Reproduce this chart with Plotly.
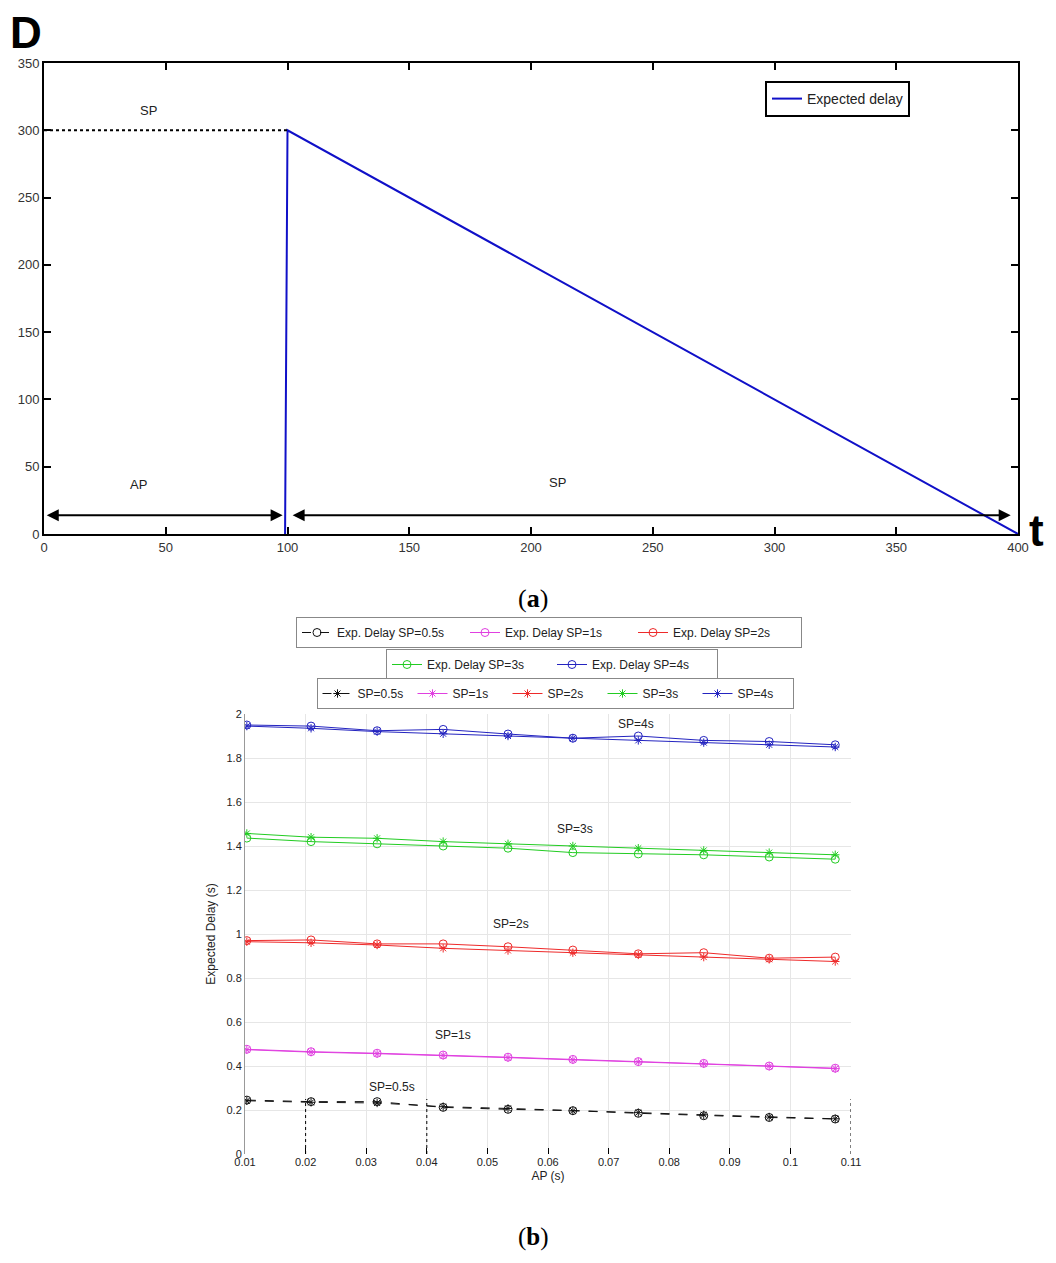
import plotly.graph_objects as go

# ---------- Panel (a) data ----------
t_vals = [99, 100, 400]
d_vals = [0, 300, 0]
sp_level_x = [0, 100]
sp_level_y = [300, 300]
phase_bounds = [0.5, 98, 101.5, 397]
arrow_y = 14

# ---------- Panel (b) data ----------
ap = [0.0103, 0.0209, 0.0318, 0.0427, 0.0534, 0.0641, 0.0749, 0.0857, 0.0965, 0.1074]
exp_05 = [0.245, 0.238, 0.238, 0.212, 0.203, 0.197, 0.185, 0.174, 0.166, 0.159]
exp_1 = [0.476, 0.465, 0.458, 0.450, 0.440, 0.430, 0.420, 0.412, 0.400, 0.390]
exp_2 = [0.970, 0.973, 0.955, 0.955, 0.942, 0.927, 0.910, 0.915, 0.890, 0.895]
exp_3 = [1.436, 1.420, 1.410, 1.400, 1.390, 1.370, 1.364, 1.360, 1.350, 1.340]
exp_4 = [1.950, 1.945, 1.924, 1.930, 1.909, 1.890, 1.900, 1.880, 1.875, 1.860]
sim_05 = [0.242, 0.235, 0.232, 0.215, 0.207, 0.196, 0.188, 0.178, 0.168, 0.160]
sim_1 = [0.474, 0.463, 0.456, 0.448, 0.438, 0.428, 0.419, 0.410, 0.399, 0.388]
sim_2 = [0.965, 0.960, 0.950, 0.935, 0.925, 0.915, 0.905, 0.895, 0.885, 0.875]
sim_3 = [1.457, 1.440, 1.435, 1.420, 1.410, 1.400, 1.390, 1.380, 1.370, 1.360]
sim_4 = [1.945, 1.935, 1.920, 1.910, 1.900, 1.890, 1.880, 1.870, 1.860, 1.850]
ref_ap = [0.02, 0.04, 0.11]
ref_top = 0.25

colors = ["#111111", "#e040e0", "#ee2a2a", "#22cc22", "#2424c0"]
sp_names = ["0.5s", "1s", "2s", "3s", "4s"]
exp_series = [exp_05, exp_1, exp_2, exp_3, exp_4]
sim_series = [sim_05, sim_1, sim_2, sim_3, sim_4]

FONT = "Liberation Sans, Arial, sans-serif"
SERIF = "Liberation Serif, Times New Roman, serif"

# page body has an 8px margin; figure is sized to fit the window
OFF = 8
W, H = 1038, 1245


def PX(px):
    return (px - OFF) / W


def PY(py):
    return 1 - (py - OFF) / H


fig = go.Figure()

# Panel (a)
fig.add_trace(go.Scatter(x=t_vals, y=d_vals, mode="lines", name="Expected delay",
                         line=dict(color="#1010c8", width=2), xaxis="x", yaxis="y",
                         legend="legend"))
fig.add_trace(go.Scatter(x=sp_level_x, y=sp_level_y, mode="lines", showlegend=False,
                         line=dict(color="black", width=2, dash="dot"), xaxis="x", yaxis="y"))

# Panel (b)
for i in range(5):
    leg = "legend2" if i < 3 else "legend3"
    fig.add_trace(go.Scatter(x=ap, y=exp_series[i], mode="lines+markers",
                             name="Exp. Delay SP=" + sp_names[i],
                             line=dict(color=colors[i], width=1, dash="dash" if i == 0 else "solid"),
                             marker=dict(symbol="circle-open", size=8, color=colors[i], line=dict(width=1)),
                             xaxis="x2", yaxis="y2", legend=leg))
for i in range(5):
    fig.add_trace(go.Scatter(x=ap, y=sim_series[i], mode="lines+markers",
                             name="SP=" + sp_names[i],
                             line=dict(color=colors[i], width=1, dash="dash" if i == 0 else "solid"),
                             marker=dict(symbol="asterisk-open", size=7, color=colors[i], line=dict(width=1, color=colors[i])),
                             xaxis="x2", yaxis="y2", legend="legend4"))
for xv in ref_ap:
    fig.add_trace(go.Scatter(x=[xv, xv], y=[0, ref_top], mode="lines", showlegend=False,
                             line=dict(color="black", width=1, dash="dot"), xaxis="x2", yaxis="y2"))

annotations = []
for a, b in [(phase_bounds[0], phase_bounds[1]), (phase_bounds[2], phase_bounds[3])]:
    annotations.append(dict(x=b, y=arrow_y, ax=a, ay=arrow_y, xref="x", yref="y", axref="x", ayref="y",
                            showarrow=True, arrowhead=2, startarrowhead=2, arrowside="end+start",
                            arrowwidth=2, arrowsize=1.2, startarrowsize=1.2, arrowcolor="black", text=""))
for txt, xv, yv in [("SP", 43, 315), ("AP", 39, 37), ("SP", 211, 38)]:
    annotations.append(dict(x=xv, y=yv, xref="x", yref="y", text=txt, showarrow=False,
                            font=dict(size=13, color="#222", family=FONT)))
for txt, xv, yv in [("SP=4s", 0.0745, 1.955), ("SP=3s", 0.0645, 1.477), ("SP=2s", 0.0539, 1.045),
                    ("SP=1s", 0.0443, 0.541), ("SP=0.5s", 0.0343, 0.305)]:
    annotations.append(dict(x=xv, y=yv, xref="x2", yref="y2", text=txt, showarrow=False,
                            font=dict(size=12, color="#222", family=FONT)))
annotations += [
    dict(x=PX(8), y=PY(6), xref="paper", yref="paper", xanchor="left", yanchor="top",
         text="<b>D</b>", showarrow=False, font=dict(size=44, color="black", family=FONT)),
    dict(x=1.0, y=PY(531), xref="paper", yref="paper", xanchor="right", yanchor="middle",
         text="<b>t</b>", showarrow=False, font=dict(size=44, color="black", family=FONT)),
    dict(x=PX(533), y=PY(598), xref="paper", yref="paper", xanchor="center", yanchor="middle",
         text="(<b>a</b>)", showarrow=False, font=dict(size=26, color="black", family=SERIF)),
    dict(x=PX(533), y=0.0, xref="paper", yref="paper", xanchor="center", yanchor="bottom",
         text="(<b>b</b>)", showarrow=False, font=dict(size=25, color="black", family=SERIF)),
]

legend_common = dict(orientation="h", bgcolor="white", bordercolor="#888", borderwidth=1,
                     font=dict(size=12, color="#222", family=FONT), xanchor="center", yanchor="top",
                     tracegroupgap=0, entrywidthmode="pixels")

fig.update_layout(
    width=W, height=H, margin=dict(l=0, r=0, t=0, b=0, autoexpand=False),
    paper_bgcolor="white", plot_bgcolor="white",
    font=dict(family=FONT, color="#222"),
    xaxis=dict(domain=[PX(44), PX(1018)], range=[0, 400], tickvals=[0, 50, 100, 150, 200, 250, 300, 350, 400],
               showline=True, linecolor="black", linewidth=2, mirror="ticks", ticks="inside", ticklen=7,
               tickwidth=2, tickcolor="black", showgrid=False, zeroline=False, automargin=False,
               tickfont=dict(size=13, color="#333"), anchor="y"),
    yaxis=dict(domain=[PY(534), PY(63)], range=[0, 350], dtick=50,
               showline=True, linecolor="black", linewidth=2, mirror="ticks", ticks="inside", ticklen=7,
               tickwidth=2, tickcolor="black", showgrid=False, zeroline=False, automargin=False,
               tickfont=dict(size=13, color="#333"), anchor="x"),
    xaxis2=dict(domain=[PX(245), PX(851)], range=[0.01, 0.11], dtick=0.01, tick0=0.01,
                showline=False, ticks="inside", ticklen=6, tickcolor="black", showgrid=True,
                gridcolor="#e6e6e6", zeroline=False, tickfont=dict(size=11, color="#222"), automargin=False,
                title=dict(text="AP (s)", font=dict(size=12), standoff=4), anchor="y2"),
    yaxis2=dict(domain=[PY(1154), PY(714)], range=[0, 2], dtick=0.2,
                showline=True, linecolor="#999", linewidth=1, ticks="", showgrid=True,
                gridcolor="#e6e6e6", zeroline=False, tickfont=dict(size=11, color="#222"), automargin=False,
                tickformat="~g",
                title=dict(text="Expected Delay (s)", font=dict(size=12), standoff=8), anchor="x2"),
    legend=dict(x=PX(765), y=PY(81), xanchor="left", yanchor="top", bgcolor="white",
                bordercolor="black", borderwidth=2, font=dict(size=14, color="#222", family=FONT),
                itemwidth=30, tracegroupgap=0),
    legend2=dict(legend_common, x=PX(549), y=PY(617), entrywidth=123),
    legend3=dict(legend_common, x=PX(552), y=PY(649), entrywidth=120),
    legend4=dict(legend_common, x=PX(555), y=PY(678), entrywidth=50),
    annotations=annotations,
)

fig.write_html("out.html")
